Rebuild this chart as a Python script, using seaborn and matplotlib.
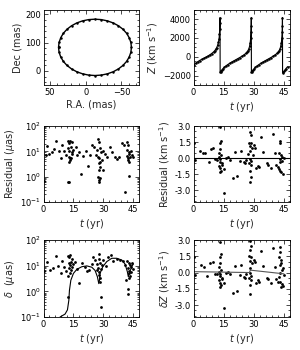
import numpy as np
import pandas as pd
import matplotlib
matplotlib.use("Agg")
import matplotlib.pyplot as plt
import seaborn as sns

# ---------------- data ----------------
# Astrometric orbit (mas)
ra_orbit = [38.0, 37.2, 34.9, 31.2, 26.1, 19.8, 12.5, 4.4, -4.1, -13.0, -21.9, -30.4,
            -38.5, -45.8, -52.1, -57.2, -60.9, -63.2, -64.0, -63.2, -60.9, -57.2, -52.1,
            -45.8, -38.5, -30.4, -21.9, -13.0, -4.1, 4.4, 12.5, 19.8, 26.1, 31.2, 34.9,
            37.2, 38.0]
dec_orbit = [83.0, 100.3, 117.0, 132.8, 147.0, 159.2, 169.2, 176.5, 181.0, 182.5, 181.0,
             176.5, 169.2, 159.2, 147.0, 132.8, 117.0, 100.3, 83.0, 65.7, 49.0, 33.2, 19.0,
             6.8, -3.2, -10.5, -15.0, -16.5, -15.0, -10.5, -3.2, 6.8, 19.0, 33.2, 49.0,
             65.7, 83.0]

# Radial velocity curve (km/s)
t_rv_curve = [0, 1, 2, 3, 4, 5, 6, 7, 8, 9, 10, 10.5, 11, 11.5, 12, 12.4, 12.7, 12.9,
              13.05, 13.15, 13.2, 13.25,
              13.5, 13.8, 14.2, 14.7, 15.3, 16, 17, 18, 19, 20, 21, 22, 23, 24, 25, 26,
              26.5, 27, 27.5, 27.9, 28.2, 28.45, 28.6, 28.7, 28.75, 28.8,
              29.0, 29.3, 29.7, 30.2, 30.8, 31.5, 32.5, 33.5, 34.5, 35.5, 36.5, 37.5,
              38.5, 39.5, 40.5, 41.5, 42, 42.5, 43, 43.4, 43.7, 43.95, 44.1, 44.2, 44.25,
              44.3, 44.6, 45.0, 45.5, 46.0, 46.8]
z_rv_curve = [-900, -700, -540, -400, -280, -170, -60, 60, 190, 340, 520, 630, 780, 960,
              1220, 1520, 1900, 2400, 3000, 3600, 4150, -1650,
              -1600, -1500, -1380, -1250, -1120, -990, -830, -690, -560, -440, -320, -200,
              -80, 50, 190, 360, 470, 620, 830, 1120, 1500, 2000, 2600, 3300, 4150, -1650,
              -1600, -1500, -1380, -1250, -1120, -990, -830, -690, -560, -440, -320, -200,
              -80, 50, 190, 360, 470, 620, 830, 1120, 1500, 2000, 2600, 3300, 4150,
              -1650, -1750, -1560, -1400, -1250, -1050]

# Astrometric residuals (micro-arcsec)
t_res_ast = [0.5, 1.3, 2.0, 3.0, 4.2, 5.4, 6.5, 7.9, 8.7, 9.5, 10.4, 11.2,
             12.35, 12.85, 13.35, 14.5, 12.5, 13.0, 13.7, 14.2, 12.7, 13.2, 13.5, 12.85,
             13.85, 14.35, 12.2, 12.7, 15.0, 16.35, 17.0, 17.85, 18.7, 20.0, 21.35,
             22.5, 23.35, 24.5, 25.5, 26.35,
             27.5, 27.85, 27.0, 28.35, 27.35, 28.0, 28.5, 27.7, 28.2, 28.85, 29.2, 28.0,
             29.7, 27.5, 28.35, 27.85, 28.0, 30.0, 31.0, 32.0, 33.35, 34.35, 35.85, 37.0,
             38.0, 39.2, 40.35,
             42.0, 42.35, 41.7, 42.7, 43.0, 42.0, 43.35, 42.5, 43.7, 42.85, 44.2, 42.2,
             42.7, 40.85, 44.7]
res_ast = [0.7, 7.4, 16, 7.6, 9.1, 12.4, 26, 10.6, 5.3, 17.8, 10.3, 7.1,
           26, 21, 26, 24, 13, 10.3, 15, 7.6, 6.2, 5.3, 4.6, 3.9,
           5.6, 9.6, 0.6, 0.63, 11, 14.7, 7.1, 9.6, 1.3, 6.8, 10.6,
           2.7, 7.1, 17.8, 14.5, 7.1,
           31, 24, 11, 13, 6.2, 5.3, 3.9, 3.4, 2.5, 9.1, 4.6, 1.8,
           1.8, 1.0, 0.92, 0.75, 0.6, 10.3, 8.1, 6.2, 14.7, 9.6, 5.9, 5.0,
           6.0, 21, 17,
           24, 17, 11, 9.6, 7.6, 6.8, 6.2, 5.3, 10, 3.9, 7.1, 4.6,
           1.1, 0.24, 5.8]

# RV residuals (km/s)
t_res_rv = [0.3, 0.5, 3.3, 4.7, 5.8, 7.5, 8.6, 9.6, 10.8, 11.6,
            13.0, 13.6, 13.3, 13.0, 12.5, 13.8, 12.8, 13.4, 13.1, 14.0, 12.6, 13.3, 13.6,
            13.0, 14.3, 15.1, 15.4, 16.3, 17.4, 18.3, 19.4, 20.4, 21.6, 22.9, 23.7, 24.9,
            25.7, 26.2,
            28.2, 28.5, 27.5, 28.7, 27.9, 29.0, 28.2, 27.2, 29.4, 28.0, 28.7, 27.4, 28.4,
            27.9, 28.5, 28.2, 29.9, 30.7, 31.0, 32.0, 32.7, 33.7, 34.8, 36.5, 37.3, 38.5,
            39.5, 40.3, 41.1, 41.8,
            42.8, 43.1, 42.5, 43.5, 42.8, 44.0, 43.1, 42.3, 42.8, 43.5, 44.1, 44.5, 44.8]
res_rv = [1.4, -0.2, 0.67, 0.52, 0.46, -0.34, 0.88, 0.94, -0.09, -0.18,
          2.9, 1.59, 1.38, 0.88, 0.52, 0.27, 0.06, -0.09, -0.34, -0.46, -0.7, -0.95, -1.17,
          -1.32, -0.64, -1.01, -3.3, 0.0, 0.06, -0.18, -1.83, 0.61, -1.68, -0.25, 0.67, -0.4,
          -0.49, -0.18,
          2.41, 2.2, 1.43, 1.38, 1.13, 0.97, 0.67, 0.36, 0.27, -0.09, -0.25, -0.46, -0.64,
          -1.17, -1.77, -2.24, 1.19, 0.97, -0.95, -0.7, -0.86, 1.95, 0.58, -0.49, -0.64, -0.95,
          2.28, 0.52, -0.64, -0.86,
          1.59, 1.38, 0.52, 0.27, -0.09, 0.06, -0.4, -1.01, -1.17, -1.32, -0.25, -1.47, -0.03]

# Astrometric perturbation delta (micro-arcsec) and model curve
t_delta_ast = [0.3, 2.0, 3.35, 4.7, 6.35, 7.5, 8.7, 9.5, 10.35, 11.35,
               12.35, 13.0, 13.5, 14.35, 12.7, 13.35, 13.85, 12.85, 13.7, 13.2, 14.2, 12.5,
               15.0, 12.5, 15.85, 17.0, 18.0, 19.2, 20.85, 21.7, 23.0, 24.2, 25.0, 25.85,
               26.7,
               27.7, 28.0, 27.0, 28.35, 27.5, 28.0, 28.7, 27.7, 28.2, 29.2, 28.5, 28.7, 28.7,
               30.0, 31.35, 32.5, 33.7, 35.0, 36.7, 38.35, 39.7, 40.85, 41.35,
               42.0, 42.7, 43.35, 42.35, 43.0, 43.7, 42.7, 43.35, 44.0, 44.35, 43.0, 42.5,
               42.5, 44.7]
delta_ast = [6.4, 14.4, 6.8, 8.3, 24, 9.8, 5.0, 15.5, 9.1, 6.4,
             24, 21, 25, 19, 12.3, 10.6, 14.4, 7.9, 6.8, 5.3, 9.1, 4.0,
             11.6, 0.6, 14.4, 7.4, 2.2, 12.3, 9.1, 6.4, 6.8, 11.6, 22, 16.6,
             6.8,
             28, 19, 11.6, 13, 7.9, 5.9, 7.2, 4.4, 3.2, 10.6, 2.4, 0.6, 0.25,
             16.6, 9.8, 21, 26, 15.5, 19, 16.6, 15.5, 10.6, 2.7,
             15.5, 12.3, 10.6, 7.9, 6.4, 8.6, 5.0, 4.0, 5.9, 12.3, 3.2, 1.2,
             0.8, 7.2]
t_delta_model = [8.3, 10.8, 12.0, 12.7, 13.0, 13.7, 15.0, 16.7, 19.2, 21.7, 24.2, 25.85,
                 27.0, 27.7, 28.0, 28.35, 29.7, 31.7, 34.2, 36.7, 39.2, 40.85, 42.0, 42.5,
                 43.0, 44.2, 45.0]
delta_model = [0.1, 0.13, 0.19, 0.45, 1.1, 2.7, 5.0, 7.2, 9.1, 9.8, 8.7, 6.5,
               3.7, 2.0, 2.6, 5.0, 9.1, 14.4, 19.4, 19.4, 16.6, 11.6, 5.9, 3.7,
               5.0, 9.1, 11.6]

# RV perturbation delta Z (km/s) and model line
t_delta_rv = [0.3, 0.5, 3.7, 5.0, 6.6, 8.3, 9.6, 10.8, 11.6,
              13.0, 13.6, 13.3, 13.0, 12.5, 13.8, 12.8, 13.4, 13.1, 14.0, 12.6, 13.3, 13.6,
              13.0, 14.3, 15.1, 15.4, 16.3, 17.4, 18.3, 19.4, 20.4, 21.6, 22.9, 23.7, 24.9,
              25.7, 26.2,
              28.2, 28.5, 28.0, 27.7, 28.7, 28.3, 29.0, 27.9, 28.2, 28.6, 27.4, 28.2, 28.0,
              28.5, 29.9, 30.7, 31.0, 32.0, 32.7, 33.7, 34.8, 36.5, 37.3, 38.5,
              39.5, 40.3, 41.1, 41.8,
              42.8, 43.1, 42.5, 43.5, 42.8, 44.0, 43.1, 42.3, 42.8, 43.5, 44.1, 44.5, 44.8,
              43.6, 44.3]
delta_rv = [1.4, -0.2, 0.69, 0.54, -0.32, 0.9, 1.0, -0.09, -0.18,
            2.84, 1.7, 1.4, 0.88, 0.52, 0.27, 0.06, -0.09, -0.34, -0.46, -0.7, -0.95, -1.17,
            -1.32, -0.64, -1.01, -3.3, 0.0, 0.06, -0.18, -1.86, 0.61, -1.68, -0.25, 0.67, -0.4,
            -0.49, -0.18,
            2.93, 2.44, 2.07, 1.52, 1.4, 1.09, 0.9, 0.38, -0.08, -0.69, -0.46, -1.15, -1.98,
            -0.3, 1.19, 0.97, -0.95, -0.7, -0.86, 1.95, 0.58, -0.49, -0.64, -0.95,
            2.28, 0.52, -0.64, -0.86,
            2.32, 1.92, 1.46, 1.15, 0.69, 0.23, -0.01, -0.38, -0.84, -1.3, -1.1, -1.2, -0.2,
            0.9, 0.4]
t_drv_model = [0.0, 27.8, 28.3, 45.0]
drv_model = [0.08, 0.0, 0.22, -0.12]

# ---------------- style ----------------
sns.set_style("ticks")
plt.rcParams.update({
    "font.family": ["DejaVu Sans"],
    "mathtext.fontset": "dejavusans",
    "xtick.direction": "in", "ytick.direction": "in",
    "xtick.top": True, "ytick.right": True,
    "xtick.minor.visible": True, "ytick.minor.visible": True,
    "xtick.major.size": 3, "ytick.major.size": 3,
    "xtick.minor.size": 1.5, "ytick.minor.size": 1.5,
    "xtick.major.width": 0.5, "ytick.major.width": 0.5,
    "xtick.minor.width": 0.5, "ytick.minor.width": 0.5,
    "axes.linewidth": 0.6,
    "axes.edgecolor": "black",
    "xtick.color": "black", "ytick.color": "black",
    "xtick.labelsize": 6, "ytick.labelsize": 6,
    "axes.labelsize": 7,
    "xtick.major.pad": 2, "ytick.major.pad": 2,
    "axes.labelpad": 2,
})

fig = plt.figure(figsize=(3.0, 3.5), dpi=100)
W, H = 300.0, 350.0
def axes_px(x0, y0, x1, y1):
    return fig.add_axes([x0 / W, 1 - y1 / H, (x1 - x0) / W, (y1 - y0) / H])

ax1 = axes_px(43.5, 9.7, 139.3, 85)
ax2 = axes_px(193.5, 9.7, 290, 85)
ax3 = axes_px(43.5, 126, 139.3, 202)
ax4 = axes_px(193.5, 126, 290, 202)
ax5 = axes_px(43.5, 240, 139.3, 317)
ax6 = axes_px(193.5, 240, 290, 317)

dot = dict(color="black", s=4, linewidth=0, legend=False)
line = dict(sort=False, estimator=None, errorbar=None, legend=False)

# Panel 1: orbit
sns.lineplot(x=ra_orbit, y=dec_orbit, ax=ax1, color="black", lw=1.0,
             marker="o", markersize=1.8, markeredgewidth=0, **line)
ax1.set_xlim(59, -75)
ax1.set_ylim(-50, 216)
ax1.set_xticks([50, 0, -50])
ax1.set_yticks([0, 100, 200])
ax1.set_xlabel("R.A. (mas)")
ax1.set_ylabel("Dec (mas)")

# Panel 2: RV curve
sns.lineplot(x=t_rv_curve, y=z_rv_curve, ax=ax2, color="black", lw=0.8,
             marker="o", markersize=1.8, markeredgewidth=0, **line)
ax2.set_xlim(0, 48)
ax2.set_ylim(-3000, 5000)
ax2.set_yticks([-2000, 0, 2000, 4000])
ax2.set_ylabel(r"$Z$ (km s$^{-1}$)")

# Panel 3: astrometric residuals
sns.scatterplot(x=t_res_ast, y=res_ast, ax=ax3, **dot)
ax3.set_yscale("log")
ax3.set_ylim(0.1, 100)
ax3.set_xlim(0, 48)
ax3.set_ylabel(r"Residual ($\mu$as)")

# Panel 4: RV residuals
ax4.axhline(0, color="black", lw=0.8)
sns.scatterplot(x=t_res_rv, y=res_rv, ax=ax4, **dot)
ax4.set_xlim(0, 48)
ax4.set_ylim(-4.1, 3.0)
ax4.set_yticks([-3.0, -1.5, 0.0, 1.5, 3.0])
ax4.set_ylabel(r"Residual (km s$^{-1}$)")

# Panel 5: astrometric delta
sns.lineplot(x=t_delta_model, y=delta_model, ax=ax5, color="black", lw=0.8, **line)
sns.scatterplot(x=t_delta_ast, y=delta_ast, ax=ax5, **dot)
ax5.set_yscale("log")
ax5.set_ylim(0.1, 100)
ax5.set_xlim(0, 48)
ax5.set_ylabel(r"$\delta$  ($\mu$as)")

# Panel 6: RV delta
sns.lineplot(x=t_drv_model, y=drv_model, ax=ax6, color="#555555", lw=0.8, **line)
sns.scatterplot(x=t_delta_rv, y=delta_rv, ax=ax6, **dot)
ax6.set_xlim(0, 48)
ax6.set_ylim(-4.1, 3.0)
ax6.set_yticks([-3.0, -1.5, 0.0, 1.5, 3.0])
ax6.set_ylabel(r"$\delta Z$ (km s$^{-1}$)")

for ax in (ax2, ax3, ax4, ax5, ax6):
    ax.set_xticks([0, 15, 30, 45])
    ax.set_xlabel(r"$t$ (yr)")
for ax in (ax4, ax6):
    ax.yaxis.set_major_formatter(matplotlib.ticker.FormatStrFormatter("%.1f"))
    ax.yaxis.set_minor_locator(matplotlib.ticker.AutoMinorLocator(3))
ax2.yaxis.set_minor_locator(matplotlib.ticker.AutoMinorLocator(4))
for ax in (ax2, ax3, ax4, ax5, ax6):
    ax.xaxis.set_minor_locator(matplotlib.ticker.AutoMinorLocator(5))
ax1.xaxis.set_minor_locator(matplotlib.ticker.AutoMinorLocator(5))
ax1.yaxis.set_minor_locator(matplotlib.ticker.AutoMinorLocator(5))

fig.savefig("out.png", dpi=100)
